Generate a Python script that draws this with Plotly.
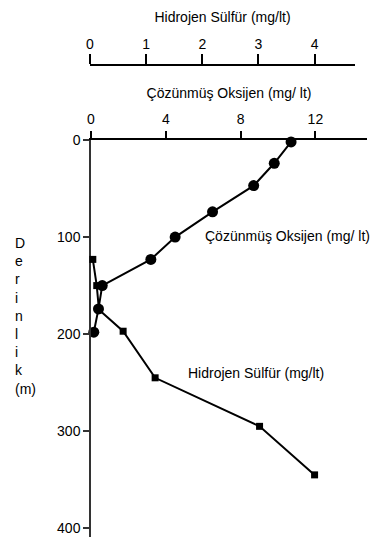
import plotly.graph_objects as go

# Depth profiles (m) and concentrations (mg/lt)
oxygen_depth = [2, 24, 47, 74, 100, 123, 150, 174, 198]
oxygen_value = [10.7, 9.8, 8.7, 6.5, 4.5, 3.2, 0.6, 0.4, 0.15]

h2s_depth = [123, 150, 175, 197, 245, 295, 345]
h2s_value = [0.05, 0.12, 0.16, 0.59, 1.16, 3.02, 4.0]

oxygen_ticks = [0, 4, 8, 12]
h2s_ticks = [0, 1, 2, 3, 4]
depth_ticks = [0, 100, 200, 300, 400]

W, H = 377, 537
FONT = "Liberation Sans, Arial, sans-serif"


def px(x):
    return x / W


def py(y):
    return 1 - y / H


fig = go.Figure()

fig.add_trace(go.Scatter(
    x=h2s_value, y=h2s_depth, xaxis="x2", yaxis="y",
    mode="lines+markers", cliponaxis=False,
    line=dict(color="black", width=2),
    marker=dict(symbol="square", size=7, color="black"),
    name="Hidrojen Sülfür (mg/lt)", showlegend=False,
))

fig.add_trace(go.Scatter(
    x=oxygen_value, y=oxygen_depth, xaxis="x", yaxis="y",
    mode="lines+markers", cliponaxis=False,
    line=dict(color="black", width=2),
    marker=dict(symbol="circle", size=11, color="black"),
    name="Çözünmüş Oksijen (mg/ lt)", showlegend=False,
))

axis_font = dict(family=FONT, size=14, color="black")

fig.update_layout(
    width=W, height=H,
    margin=dict(l=0, r=0, t=0, b=0, autoexpand=False),
    paper_bgcolor="white", plot_bgcolor="rgba(0,0,0,0)",
    font=axis_font,
    xaxis=dict(
        domain=[px(91), px(367)], range=[0, 14.76],
        side="top", anchor="y", automargin=False,
        tickvals=oxygen_ticks, ticks="outside", ticklen=7, tickwidth=1.5,
        tickcolor="black", showline=True, linecolor="black", linewidth=1.5,
        showgrid=False, zeroline=False, tickfont=axis_font,
        ticklabelstandoff=2,
        title=dict(text="Çözünmüş Oksijen (mg/ lt)", font=axis_font, standoff=9),
    ),
    xaxis2=dict(
        domain=[px(90), px(355)], range=[0, 4.72],
        side="top", anchor="free", position=py(65), automargin=False,
        tickvals=h2s_ticks, ticks="outside", ticklen=10, tickwidth=1.5,
        tickcolor="black", showline=True, linecolor="black", linewidth=1.5,
        showgrid=False, zeroline=False, tickfont=axis_font,
        title=dict(text="Hidrojen Sülfür (mg/lt)", font=axis_font, standoff=9),
    ),
    yaxis=dict(
        domain=[0, py(140)], range=[409, 0], anchor="x", automargin=False,
        tickvals=depth_ticks, ticks="outside", ticklen=6, tickwidth=1.5,
        tickcolor="#333", showline=True, linecolor="#333", linewidth=1.5,
        showgrid=False, zeroline=False, tickfont=axis_font,
    ),
)

# Vertical stacked axis title
fig.add_annotation(
    xref="paper", yref="paper", x=px(13), y=py(233),
    xanchor="left", yanchor="top", align="left", showarrow=False,
    text="D<br>e<br>r<br>i<br>n<br>l<br>i<br>k<br>(m)",
    font=dict(family=FONT, size=14, color="black"),
)

# Series labels
fig.add_annotation(
    xref="paper", yref="paper", x=px(203), y=py(236),
    xanchor="left", yanchor="middle", showarrow=False,
    text="Çözünmüş Oksijen (mg/ lt)", font=axis_font,
)
fig.add_annotation(
    xref="paper", yref="paper", x=px(186), y=py(373),
    xanchor="left", yanchor="middle", showarrow=False,
    text="Hidrojen Sülfür (mg/lt)", font=axis_font,
)

fig.write_html("out.html")
